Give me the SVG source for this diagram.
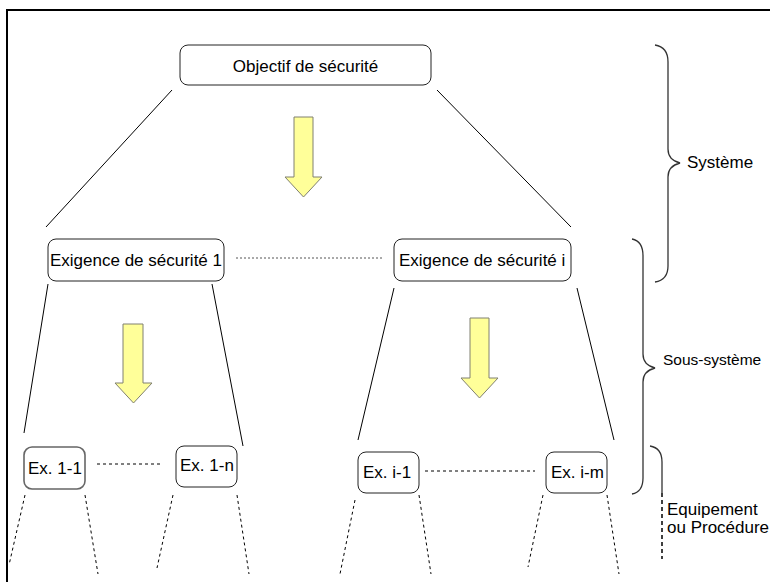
<svg xmlns="http://www.w3.org/2000/svg" width="770" height="582" viewBox="0 0 770 582">
<style>
.node rect{fill:#fff;stroke:#222;stroke-width:1}
.t{font-family:"Liberation Sans",Arial,sans-serif;font-size:17px;fill:#000}
.ln{stroke:#000;stroke-width:1;fill:none}
.dl{stroke:#000;stroke-width:1;stroke-dasharray:3,3;fill:none}
.dot{stroke:#555;stroke-width:1;stroke-dasharray:2,2;fill:none}
.arr{fill:#FFFF99;stroke:#808070;stroke-width:1}
.br{fill:none;stroke:#333;stroke-width:1.3}
</style>
<rect x="0" y="0" width="770" height="582" fill="#fff"/>
<rect x="7" y="10" width="800" height="620" fill="none" stroke="#000" stroke-width="2"/>
<g id="connectors">
<line class="ln" x1="172" y1="90" x2="46" y2="227"/>
<line class="ln" x1="437" y1="90" x2="571" y2="227"/>
<line class="dot" x1="236" y1="258" x2="383" y2="258"/>
<line class="ln" x1="48" y1="284" x2="24" y2="433"/>
<line class="ln" x1="212" y1="284" x2="243" y2="446"/>
<line class="ln" x1="394" y1="288" x2="358" y2="440"/>
<line class="ln" x1="577" y1="288" x2="614" y2="440"/>
<line class="dl" x1="97" y1="464" x2="163" y2="464"/>
<line class="dl" x1="425" y1="471" x2="535" y2="471"/>
<line class="dl" x1="25" y1="495" x2="9" y2="565"/>
<line class="dl" x1="85" y1="495" x2="98" y2="574"/>
<line class="dl" x1="173" y1="495" x2="157" y2="568"/>
<line class="dl" x1="237" y1="495" x2="249" y2="574"/>
<line class="dl" x1="355" y1="500" x2="340" y2="574"/>
<line class="dl" x1="419" y1="495" x2="431" y2="574"/>
<line class="dl" x1="543" y1="495" x2="528" y2="567"/>
<line class="dl" x1="607" y1="495" x2="619" y2="574"/>
</g>
<g id="arrows">
<polygon class="arr" points="294,117 313,117 313,177 322,177 303.5,197 285,177 294,177"/>
<polygon class="arr" points="123,324 143,324 143,383 152,383 133.5,403 115,383 123,383"/>
<polygon class="arr" points="470,318 489,318 489,378 498,378 479.5,398 461,378 470,378"/>
</g>
<g id="n-objectif" class="node">
<rect x="180" y="45" width="251" height="40" rx="8"/>
<text class="t" x="305.5" y="71.5" text-anchor="middle">Objectif de sécurité</text>
</g>
<g id="n-exig1" class="node">
<rect x="48" y="239" width="176" height="42" rx="8"/>
<text class="t" x="50" y="266">Exigence de sécurité 1</text>
</g>
<g id="n-exigi" class="node">
<rect x="394" y="239" width="177" height="42" rx="8"/>
<text class="t" x="399" y="266">Exigence de sécurité i</text>
</g>
<g id="n-ex11" class="node">
<rect x="24" y="447" width="61" height="42" rx="8" style="stroke:#666;stroke-width:1.6"/>
<text class="t" x="28" y="474">Ex. 1-1</text>
</g>
<g id="n-ex1n" class="node">
<rect x="176" y="446" width="61" height="41" rx="8"/>
<text class="t" x="180" y="471">Ex. 1-n</text>
</g>
<g id="n-exi1" class="node">
<rect x="358" y="452" width="61" height="41" rx="8"/>
<text class="t" x="363" y="478">Ex. i-1</text>
</g>
<g id="n-exim" class="node">
<rect x="546" y="452" width="61" height="41" rx="8"/>
<text class="t" x="551" y="478">Ex. i-m</text>
</g>
<g id="brace-systeme">
<path class="br" d="M655,45 Q668,47 668,62 L668,149 Q668,160 680,163 Q668,166 668,177 L668,266 Q668,280 655,282"/>
<text class="t" x="687" y="168">Système</text>
</g>
<g id="brace-sous-systeme">
<path class="br" d="M632,239 Q643,241 643,256 L643,354 Q643,365 655,368 Q643,371 643,382 L643,478 Q643,492 632,494"/>
<text class="t" x="663" y="365" style="font-size:15.5px">Sous-système</text>
</g>
<g id="brace-equipement">
<path class="br" d="M650,446 Q662,448 662,462 L662,493"/>
<line x1="662" y1="493" x2="662" y2="559" stroke="#000" stroke-width="1.5" stroke-dasharray="4,3"/>
<text class="t" x="667" y="515">Equipement</text>
<text class="t" x="667" y="533">ou Procédure</text>
</g>
</svg>
